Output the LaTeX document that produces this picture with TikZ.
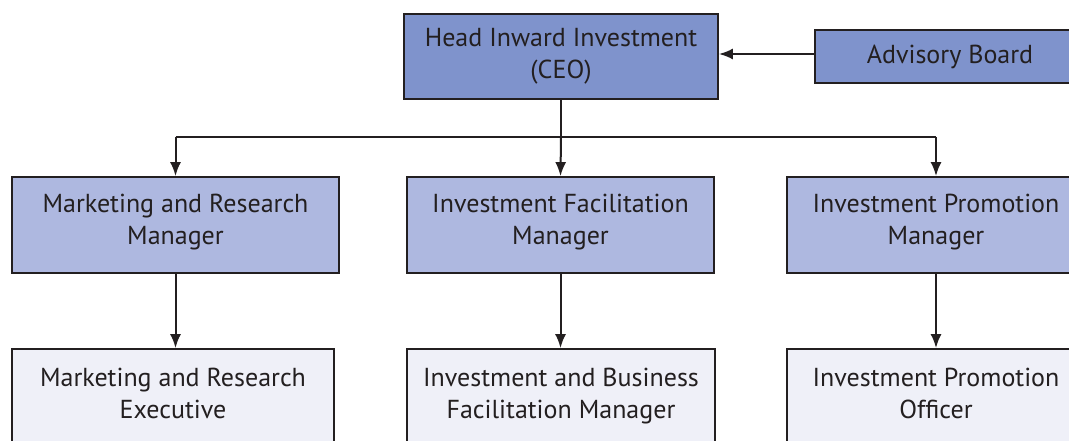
\documentclass[tikz,border=0pt]{standalone}
\usepackage{fontspec}
\setmainfont{PT Sans}
\usetikzlibrary{arrows.meta}
\definecolor{lineC}{RGB}{35,31,32}
\definecolor{topC}{RGB}{127,147,204}
\definecolor{midC}{RGB}{174,184,224}
\definecolor{lowC}{RGB}{239,240,248}
\tikzset{
  box/.style={draw=lineC, line width=1.8pt, align=center, font=\fontsize{26}{32}\selectfont, text=lineC, inner sep=0pt},
  topbox/.style={box, fill=topC},
  midbox/.style={box, fill=midC},
  lowbox/.style={box, fill=lowC},
  conn/.style={draw=lineC, line width=2pt, -{Latex[length=14pt,width=11pt]}},
  plain/.style={draw=lineC, line width=2pt}
}
\newcommand{\up}[1]{\raisebox{3pt}[\height][\depth]{\begin{tabular}{@{}c@{}}#1\end{tabular}}}
\begin{document}
\begin{tikzpicture}[x=1pt,y=-1pt]
\useasboundingbox (0,0) rectangle (1069,441);
\clip (0,0) rectangle (1069,441);
% top
\node[topbox, minimum width=314pt, minimum height=85pt] (ceo) at (561,56.5) {Head Inward Investment\\(CEO)};
\node[topbox, minimum width=270pt, minimum height=53pt] (adv) at (950,56.5) {Advisory Board};
% middle
\node[midbox, minimum width=327pt, minimum height=96pt] (mr) at (175.5,225) {\up{Marketing and Research\\Manager}};
\node[midbox, minimum width=307pt, minimum height=96pt] (if) at (560.5,225) {\up{Investment Facilitation\\Manager}};
\node[midbox, minimum width=298pt, minimum height=96pt] (ip) at (936,225) {\up{Investment Promotion\\Manager}};
% bottom
\node[lowbox, minimum width=322pt, minimum height=100pt] (mre) at (173,399) {\up{Marketing and Research\\Executive}};
\node[lowbox, minimum width=308pt, minimum height=100pt] (ibf) at (561,399) {\up{Investment and Business\\Facilitation Manager}};
\node[lowbox, minimum width=298pt, minimum height=100pt] (ipo) at (936,399) {\up{Investment Promotion\\Officer}};
% connectors
\coordinate (j) at (561,137);
\draw[conn] (adv.west |- 0,54) -- (ceo.east |- 0,54);
\draw[plain] (ceo.south) -- (j);
\draw[plain] (j -| mr.north) -- (j -| ip.north);
\draw[conn] (j -| mr.north) -- (mr.north);
\draw[conn] (j) -- (if.north);
\draw[conn] (j -| ip.north) -- (ip.north);
\draw[conn] (mr.south) -- (mr.south |- mre.north);
\draw[conn] (if.south) -- (if.south |- ibf.north);
\draw[conn] (ip.south) -- (ipo.north);
\end{tikzpicture}
\end{document}
